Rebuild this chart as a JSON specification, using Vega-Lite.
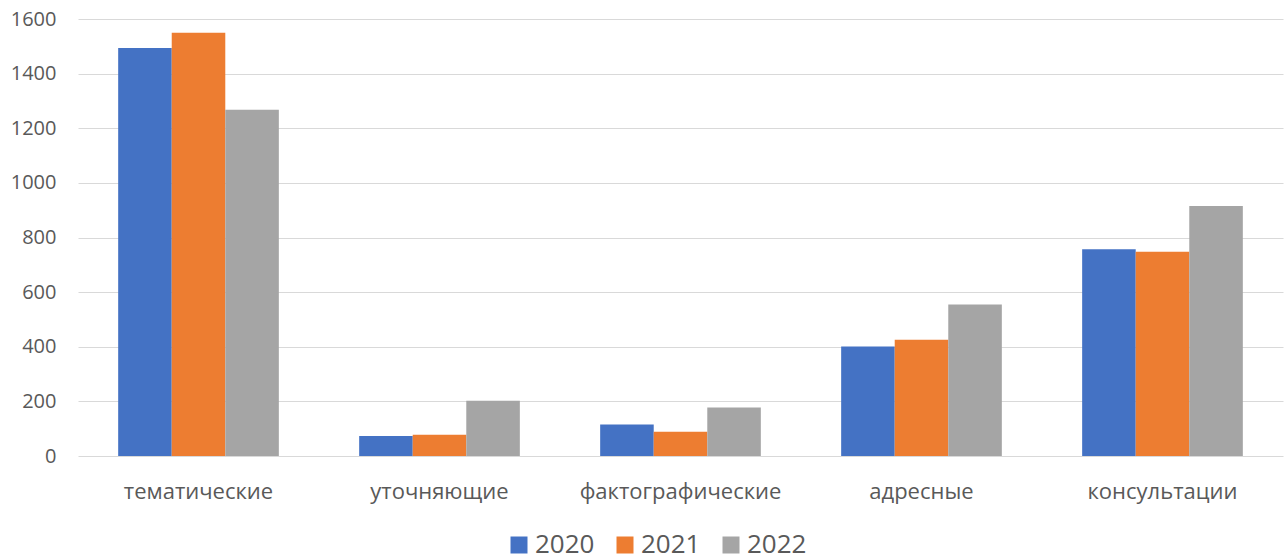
{
  "$schema": "https://vega.github.io/schema/vega-lite/v6.json",
  "width": 1205,
  "height": 437,
  "autosize": {"type": "none"},
  "padding": {"left": 78, "top": 19, "right": 4, "bottom": 104},
  "background": "white",
  "config": {"view": {"stroke": null}, "font": "Open Sans"},
  "data": {"values": [
    {"category": "тематические", "year": "2020", "value": 1494},
    {"category": "тематические", "year": "2021", "value": 1550},
    {"category": "тематические", "year": "2022", "value": 1268},
    {"category": "уточняющие", "year": "2020", "value": 73},
    {"category": "уточняющие", "year": "2021", "value": 78},
    {"category": "уточняющие", "year": "2022", "value": 202},
    {"category": "фактографические", "year": "2020", "value": 115},
    {"category": "фактографические", "year": "2021", "value": 89},
    {"category": "фактографические", "year": "2022", "value": 178},
    {"category": "адресные", "year": "2020", "value": 401},
    {"category": "адресные", "year": "2021", "value": 426},
    {"category": "адресные", "year": "2022", "value": 555},
    {"category": "консультации", "year": "2020", "value": 757},
    {"category": "консультации", "year": "2021", "value": 748},
    {"category": "консультации", "year": "2022", "value": 915}
  ]},
  "mark": {"type": "bar"},
  "encoding": {
    "x": {
      "field": "category", "type": "nominal", "sort": null,
      "scale": {"paddingInner": 0.3333, "paddingOuter": 0.1667},
      "axis": {"title": null, "labelAngle": 0, "domain": false, "ticks": false, "labelPadding": 25, "labelFontSize": 22, "labelLimit": 0, "labelColor": "#595959", "labelFont": "Open Sans"}
    },
    "xOffset": {"field": "year", "type": "nominal", "scale": {"paddingInner": 0, "paddingOuter": 0}},
    "y": {
      "field": "value", "type": "quantitative",
      "scale": {"domain": [0, 1600], "nice": false},
      "axis": {"title": null, "format": "d", "values": [0, 200, 400, 600, 800, 1000, 1200, 1400, 1600], "domain": false, "ticks": false, "gridColor": "#D9D9D9", "gridWidth": 1, "labelPadding": 22, "labelFontSize": 20, "labelColor": "#595959", "labelFont": "Open Sans"}
    },
    "color": {
      "field": "year", "type": "nominal",
      "scale": {"range": ["#4472C4", "#ED7D31", "#A5A5A5"]},
      "legend": {"orient": "none", "legendX": 428, "legendY": 513, "direction": "horizontal", "title": null, "symbolType": "square", "symbolSize": 289, "symbolStrokeWidth": 0, "labelFontSize": 26, "labelColor": "#595959", "labelFont": "Open Sans", "labelOffset": 3, "columnPadding": 17}
    }
  }
}
